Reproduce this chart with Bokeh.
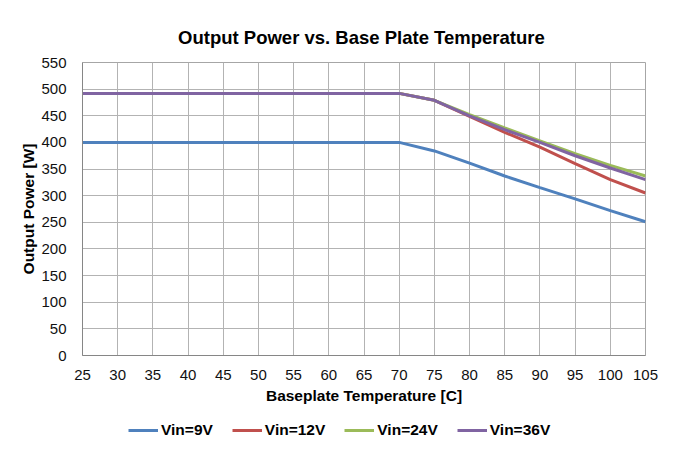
from bokeh.plotting import figure
from bokeh.models import Range1d, FixedTicker, Legend, LegendItem
from bokeh.layouts import column
from bokeh.embed import file_html
from bokeh.resources import INLINE

temps = [25, 30, 35, 40, 45, 50, 55, 60, 65, 70, 75, 80, 85, 90, 95, 100, 105]
vin9 = [400, 400, 400, 400, 400, 400, 400, 400, 400, 400, 384, 361, 337, 315, 294, 272, 251]
vin12 = [492, 492, 492, 492, 492, 492, 492, 492, 492, 492, 479, 449, 419, 391, 360, 330, 305]
vin24 = [492, 492, 492, 492, 492, 492, 492, 492, 492, 492, 479, 452, 427, 403, 379, 357, 337]
vin36 = [492, 492, 492, 492, 492, 492, 492, 492, 492, 492, 479, 450, 424, 400, 375, 352, 330]
series = [vin9, vin12, vin24, vin36]
series_names = ["Vin=9V", "Vin=12V", "Vin=24V", "Vin=36V"]
series_colors = ["#4F81BD", "#C0504D", "#9BBB59", "#8064A2"]
x_ticks = list(range(25, 106, 5))
y_ticks = list(range(0, 551, 50))

p = figure(output_backend="svg", toolbar_location=None,
           x_range=Range1d(25, 105), y_range=Range1d(0, 550),
           frame_width=563, frame_height=293,
           min_border_left=82, min_border_right=31, min_border_top=62, min_border_bottom=55)

p.title.text = "Output Power  vs. Base Plate Temperature"
p.title.align = "center"
p.title.text_font = "Liberation Sans"
p.title.text_font_size = "18.5px"
p.title.text_font_style = "bold"
p.title.text_color = "#000000"
p.title.standoff = 30

p.outline_line_color = "#a6a6a6"
p.border_fill_color = "white"

for ax in (p.xaxis[0], p.yaxis[0]):
    ax.major_label_text_font = "Liberation Sans"
    ax.major_label_text_font_size = "15px"
    ax.major_label_text_color = "#111111"
    ax.axis_label_text_font = "Liberation Sans"
    ax.axis_label_text_font_size = "15.5px"
    ax.axis_label_text_font_style = "bold"
    ax.axis_label_text_color = "#000000"
    ax.axis_line_color = "#868686"
    ax.major_tick_line_color = None
    ax.minor_tick_line_color = None

p.xaxis.ticker = FixedTicker(ticks=x_ticks)
p.yaxis.ticker = FixedTicker(ticks=y_ticks)
p.xaxis.axis_label = "Baseplate Temperature [C]"
p.yaxis.axis_label = "Output Power [W]"
p.xaxis.major_label_standoff = 8
p.yaxis.major_label_standoff = 10
p.xaxis.axis_label_standoff = 4
p.yaxis.axis_label_standoff = 1

p.xgrid.ticker = FixedTicker(ticks=x_ticks)
p.ygrid.ticker = FixedTicker(ticks=y_ticks)
p.xgrid.grid_line_color = "#b3b3b3"
p.ygrid.grid_line_color = "#b3b3b3"

for ys, col in zip(series, series_colors):
    p.line(temps, ys, line_color=col, line_width=3)

# legend strip below the chart (its lines lie outside its own view range)
lg = figure(output_backend="svg", toolbar_location=None, width=676, height=38,
            x_range=Range1d(0, 1), y_range=Range1d(0, 1),
            min_border_left=0, min_border_right=0, min_border_top=0, min_border_bottom=0)
lg.axis.visible = False
lg.grid.visible = False
lg.outline_line_color = None

items = []
for ys, name, col in zip(series, series_names, series_colors):
    r = lg.line(temps, ys, line_color=col, line_width=3)
    items.append(LegendItem(label=name, renderers=[r]))

legend = Legend(items=items, orientation="horizontal", location=(46, 8),
                border_line_color=None, background_fill_alpha=0,
                label_text_font="Liberation Sans", label_text_font_size="15.5px",
                label_text_font_style="bold", label_text_color="#000000",
                glyph_width=30, label_standoff=3, spacing=19, padding=2, margin=0)
lg.add_layout(legend)

open("out.html", "w").write(file_html(column(p, lg, spacing=0), INLINE))
